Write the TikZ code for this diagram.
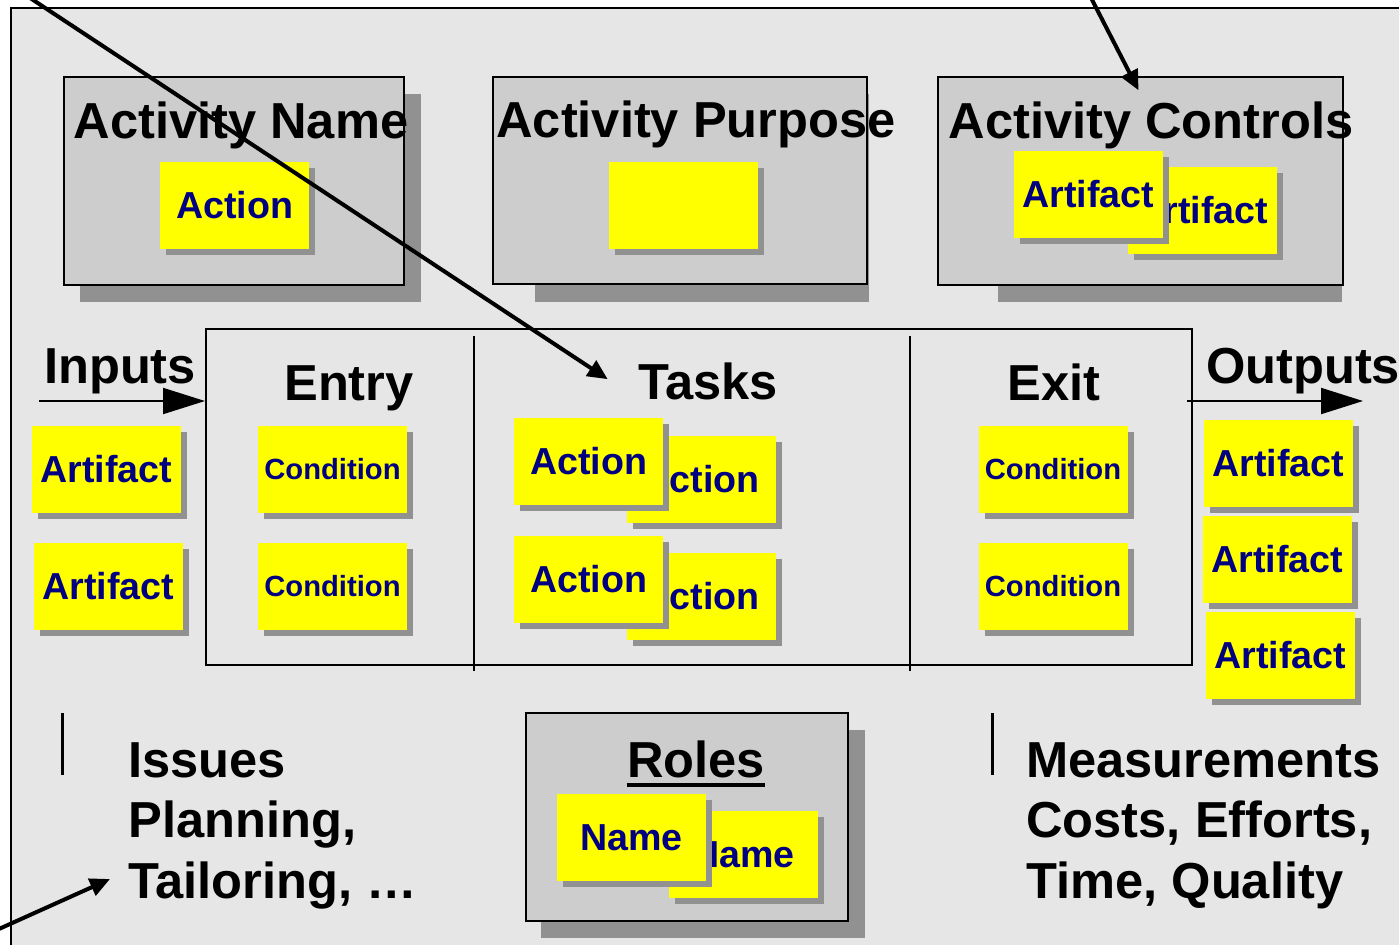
\documentclass[tikz,border=0pt]{standalone}
\usepackage{fontspec}
\setmainfont{Liberation Sans}
\usepackage{tikz}
\usetikzlibrary{arrows.meta}
\usetikzlibrary{shadows}
\usepackage{xcolor}

\definecolor{pagegray}{HTML}{E6E6E6}
\definecolor{boxgray}{HTML}{CDCDCD}
\definecolor{shadegray}{HTML}{919191}
\definecolor{noteyellow}{HTML}{FFFF00}
\definecolor{notetext}{HTML}{000080}

\begin{document}
\begin{tikzpicture}[x=0.5pt, y=-0.5pt,
        panel/.style={draw, line width=1.3pt, fill=boxgray, inner sep=0pt},
        note/.style={fill=noteyellow, text=notetext, font=\bfseries\fontsize{18.8}{20}\selectfont,
                minimum width=74.5pt, minimum height=43.5pt, inner sep=0pt,
                drop shadow={shadow xshift=3pt, shadow yshift=-3pt, fill=shadegray, opacity=1}},
        smallnote/.style={note, font=\bfseries\fontsize{14.6}{16}\selectfont},
        heading/.style={font=\bfseries\fontsize{25.3}{30.25}\selectfont, inner sep=0pt, anchor=base},
        pointer/.style={line width=2pt, -{Triangle[length=10pt, width=9pt]}},
        flow/.style={line width=1pt, -{Triangle[length=21pt, width=13pt]}}]
                \path[use as bounding box, fill=white] (0,0) rectangle (1399,944);
                \draw[fill=pagegray, line width=1pt] (11,8) rectangle (1420,960);

                % the four grey cards with their shadows
                \fill[shadegray] (80,94) rectangle (421,302);
                \fill[shadegray] (535,94) rectangle (869,302);
                \fill[shadegray] (998,94) rectangle (1342,302);
                \fill[shadegray] (541,730) rectangle (865,938);
                \node[panel, minimum width=170pt, minimum height=104pt] (namebox) at (234,181) {};
                \node[panel, minimum width=187pt, minimum height=103.5pt] (purposebox) at (680,180.5) {};
                \node[panel, minimum width=202.5pt, minimum height=104pt] (controlbox) at (1140.5,181) {};
                \node[panel, minimum width=161pt, minimum height=104pt] (rolebox) at (687,817) {};

                % entry / tasks / exit frame
                \node[draw, line width=1pt, minimum width=493pt, minimum height=168pt, inner sep=0pt] (mid) at (699,497) {};
                \draw[line width=1pt] (474,336) -- (474,671);
                \draw[line width=1pt] (910,336) -- (910,671);

                \node[heading] (nameT) at (241,138) {Activity Name};
                \node[heading] (purposeT) at (696,137) {Activity Purpose};
                \node[heading] (controlT) at (1151,138) {Activity Controls};
                \node[heading] (inT) at (120,383) {Inputs};
                \node[heading] (outT) at (1303,383) {Outputs};
                \node[heading] (entryT) at (349,400) {Entry};
                \node[heading] (tasksT) at (708,399) {Tasks};
                \node[heading] (exitT) at (1054,400) {Exit};
                \node[heading] (roleT) at (696,777) {Roles};
                \draw[line width=1.6pt] ([yshift=-4pt]roleT.base west) -- ([yshift=-4pt]roleT.base east);

                % sticky notes
                \node[note] (nameN) at (234.5,205) {Action};
                \node[note] (purposeN) at (683.5,205.5) {};
                \node[note] (controlN2) at (1202.5,210.5) {Artifact};
                \node[note] (controlN1) at (1088.5,194) {Artifact};
                \node[note] (in1) at (106.5,469.5) {Artifact};
                \node[note] (in2) at (108.5,586.5) {Artifact};
                \node[smallnote] (entry1) at (332.5,469.5) {Condition};
                \node[smallnote] (entry2) at (332.5,586.5) {Condition};
                \node[note] (task1b) at (701,479) {Action};
                \node[note] (task1) at (588.5,461.5) {Action};
                \node[note] (task2b) at (701,596) {Action};
                \node[note] (task2) at (588.5,579) {Action};
                \node[smallnote] (exit1) at (1053,469.5) {Condition};
                \node[smallnote] (exit2) at (1053,586) {Condition};
                \node[note] (out1) at (1278.5,463.5) {Artifact};
                \node[note] (out2) at (1277.5,559.5) {Artifact};
                \node[note] (out3) at (1280.5,655.5) {Artifact};
                \node[note] (role2) at (743.5,854.5) {Name};
                \node[note] (role1) at (631.5,837.5) {Name};

                % issues and measurements (base is the last line)
                \draw[line width=1.5pt] (62,713) -- (62,775);
                \draw[line width=1.5pt] (992,713) -- (992,775);
                \node[heading, anchor=base west, align=left] (issues) at (128,898) {Issues\\Planning,\\Tailoring, …};
                \node[heading, anchor=base west, align=left] (measures) at (1026,898) {Measurements\\Costs, Efforts,\\Time, Quality};

                % inputs and outputs
                \coordinate (inFrom) at (39,401);
                \coordinate (outTo) at (1363,401);
                \path (mid.east |- outTo) ++(-6,0) coordinate (outFrom);
                \draw[flow] (inFrom) -- (inFrom -| mid.west);
                \draw[flow] (outFrom) -- (outTo);

                % pointers coming in from outside
                \coordinate (ptrTasks) at (18,-10);
                \coordinate (ptrControls) at (1087,-10);
                \coordinate (ptrIssues) at (-10,933);
                \draw[pointer, shorten >=18pt] (ptrTasks) -- (tasksT.base west);
                \draw[pointer, shorten >=6pt] (ptrControls) -- ([xshift=-3.5pt]controlT.north);
                \draw[pointer] (ptrIssues) -- ([xshift=-9pt, yshift=9.5pt]issues.base west);
        \end{tikzpicture}
\end{document}
